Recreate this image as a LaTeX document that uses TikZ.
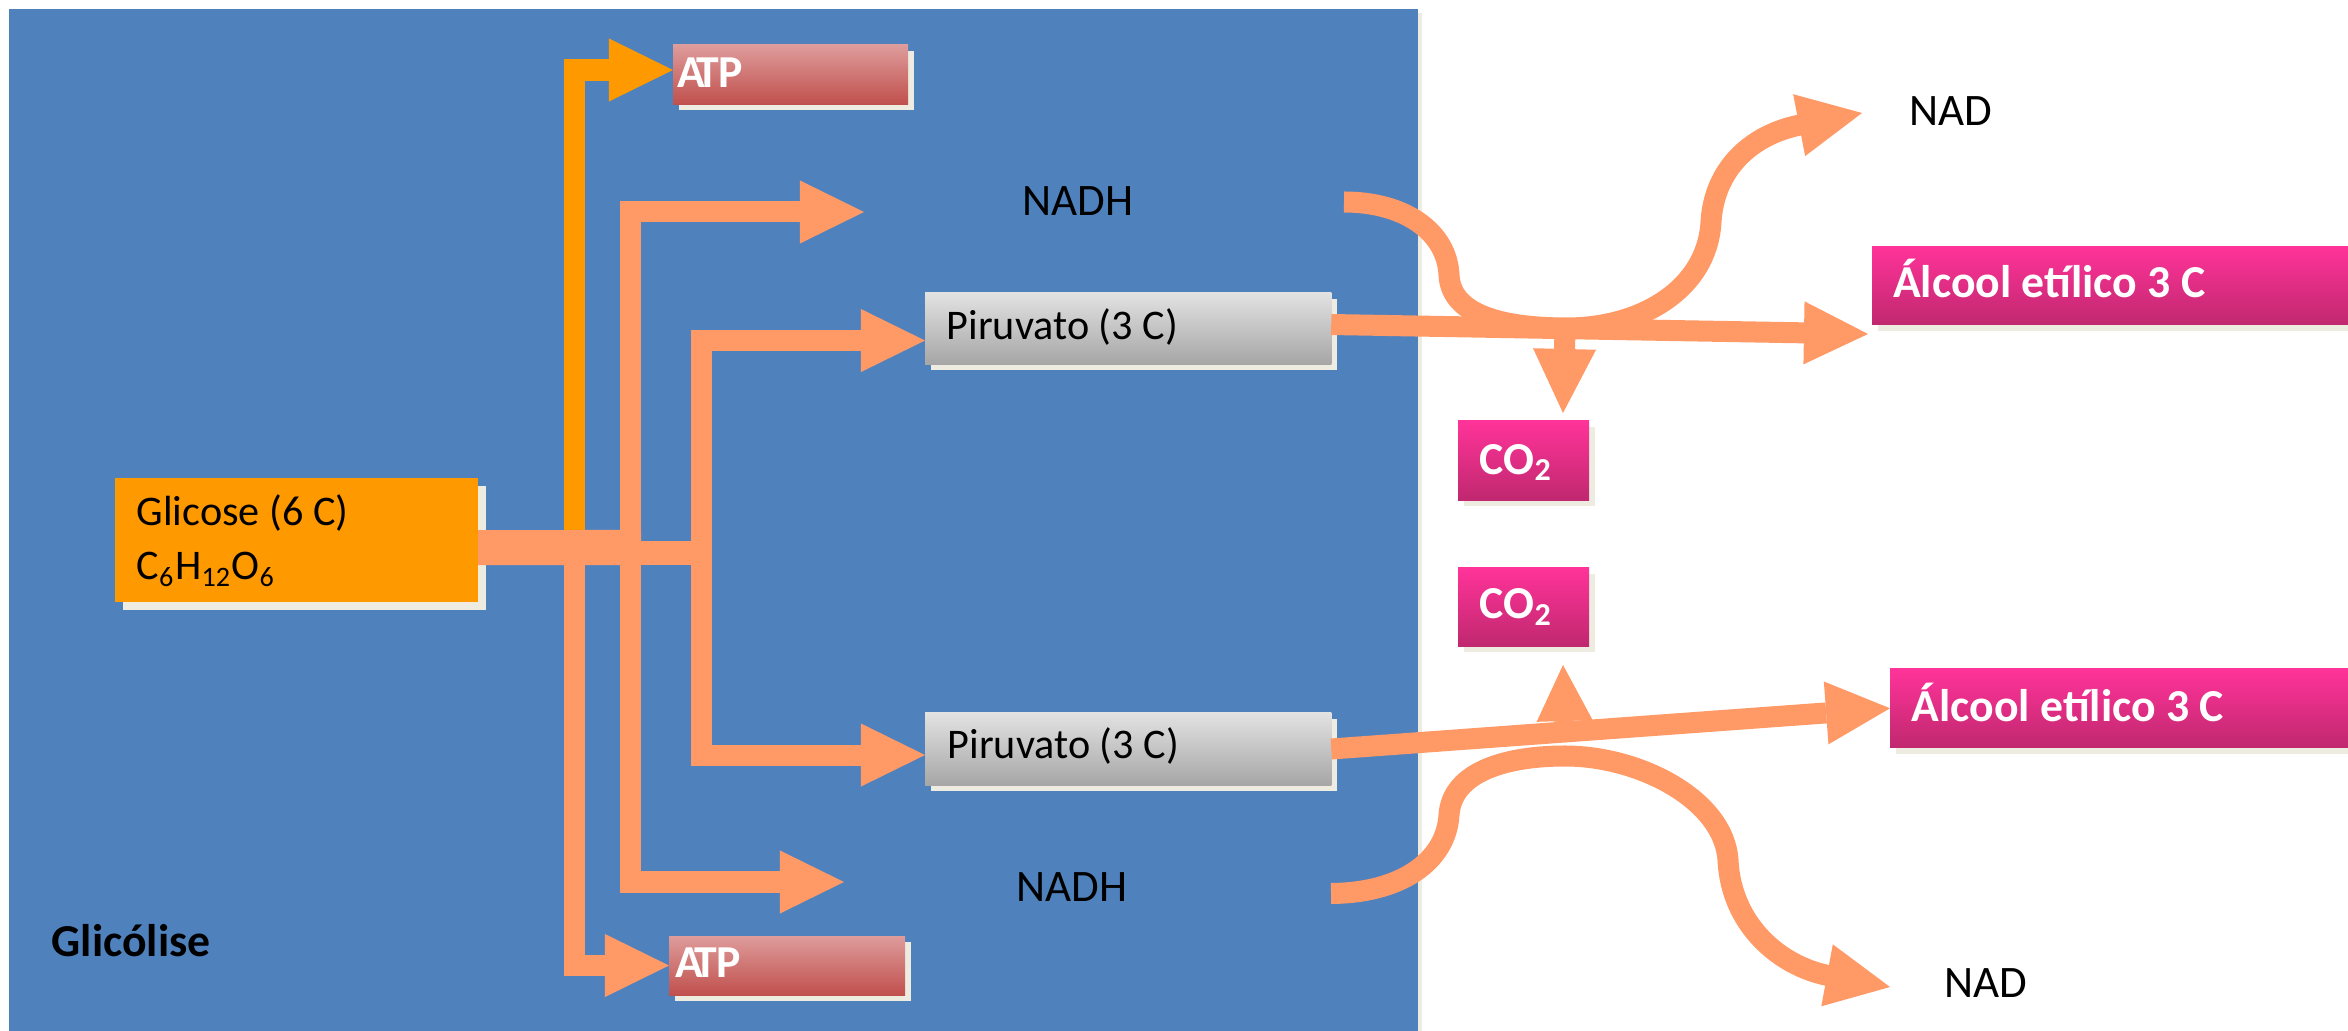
\documentclass[tikz,border=0pt]{standalone}
\usepackage{fontspec}
\setmainfont{Carlito}
\usetikzlibrary{arrows.meta,shadows}
\definecolor{bgblue}{HTML}{4F81BD}
\definecolor{salmon}{HTML}{FF9966}
\definecolor{amber}{HTML}{FF9900}
\definecolor{shadowc}{HTML}{EEECE1}
\definecolor{atptop}{HTML}{DE9C9B}
\definecolor{atpbot}{HTML}{C0504D}
\definecolor{greytop}{HTML}{E2E2E2}
\definecolor{greybot}{HTML}{A6A6A6}
\definecolor{pinktop}{HTML}{FF3399}
\definecolor{pinkbot}{HTML}{C0286F}
\tikzset{
  box/.style={rectangle, inner sep=0pt, outer sep=0pt, anchor=north west},
  shad/.style={drop shadow={shadow xshift=#1, shadow yshift=-#1, fill=shadowc, opacity=1}},
  shad/.default=0.06cm,
  lbl/.style={anchor=base west, inner sep=0pt, font=\fontsize{12}{14}\selectfont},
  nlbl/.style={anchor=base west, inner sep=0pt, font=\fontsize{12.8}{15}\selectfont},
  wlbl/.style={anchor=base west, inner sep=0pt, text=white, font=\fontsize{13}{15}\selectfont\bfseries},
  flow/.style={draw=salmon, line width=0.21cm, line join=miter,
     -{Triangle[length=0.64cm,width=0.63cm,line width=0pt]}},
  bar/.style={draw=salmon},
}
\begin{document}
\begin{tikzpicture}[x=0.01cm,y=-0.01cm]
\useasboundingbox (0,0) rectangle (2348,1031);
% boxes
\node[box, shad=0.04cm, fill=bgblue, minimum width=14.08cm, minimum height=10.22cm] (cell) at (9,9) {};
\node[box, shad=0.08cm, fill=amber, minimum width=3.63cm, minimum height=1.23cm] (glic) at (115,478.5) {};
\node[box, shad, top color=atptop, bottom color=atpbot, minimum width=2.35cm, minimum height=0.59cm] (atpT) at (673,45) {};
\node[box, shad, top color=atptop, bottom color=atpbot, minimum width=2.36cm, minimum height=0.59cm] (atpB) at (669,936) {};
\node[box, shad, top color=greytop, bottom color=greybot, minimum width=4.06cm, minimum height=0.71cm] (pirT) at (925,293) {};
\node[box, shad, top color=greytop, bottom color=greybot, minimum width=4.06cm, minimum height=0.72cm] (pirB) at (925,713) {};
\node[box, shad, top color=pinktop, bottom color=pinkbot, minimum width=1.31cm, minimum height=0.79cm] (co2T) at (1458,421) {};
\node[box, shad, top color=pinktop, bottom color=pinkbot, minimum width=1.31cm, minimum height=0.78cm] (co2B) at (1458,568) {};
\node[box, shad, top color=pinktop, bottom color=pinkbot, minimum width=4.9cm, minimum height=0.775cm] (alcT) at (1872,247) {};
\node[box, shad, top color=pinktop, bottom color=pinkbot, minimum width=4.7cm, minimum height=0.785cm] (alcB) at (1890,669) {};
% coordinates
\coordinate (trM) at (641,547.5);
\coordinate (trN) at (641,553);
\coordinate (trE) at (712,553);
\coordinate (vA) at (574,547.5);
\coordinate (vN) at (630.5,547.5);
\coordinate (vP) at (701.5,553);
\coordinate (nadhTtip) at (864,212);
\coordinate (nadhBtip) at (844,882);
% elbow arrows
\draw[flow, draw=amber] (vA) |- ([yshift=0.045cm]atpT.west);
\draw[flow] (vA) |- (atpB.west);
\draw[flow] (vN) |- (nadhTtip);
\draw[flow] (vN) |- (nadhBtip);
\draw[flow] (vP) |- ([yshift=-0.12cm]pirT.west);
\draw[flow] (vP) |- ([yshift=-0.06cm]pirB.west);
% trunk
\draw[bar, line width=0.35cm] ([yshift=-0.075cm]glic.east) -- (trM);
\draw[bar, line width=0.24cm] (trN) -- (trE);
% curved NADH -> NAD
\coordinate (cTs) at (1344,202);
\coordinate (cTtip) at (1862,113);
\draw[flow] (cTs) .. controls (1405,202) and (1447,232) .. (1449,275)
   .. controls (1451,318) and (1510,328) .. (1567,328)
   .. controls (1640,328) and (1707,290) .. (1711,222)
   .. controls (1714,170) and (1750,135) .. (1800,125) -- (cTtip);
\coordinate (cBs) at (1331,893.5);
\coordinate (cBtip) at (1890,987);
\draw[flow] (cBs) .. controls (1400,893) and (1446,862) .. (1449,815)
  .. controls (1452,770) and (1510,756) .. (1565,756)
  .. controls (1640,756) and (1724,800) .. (1728,860)
  .. controls (1731,925) and (1780,966) .. (1828,975.5) -- (cBtip);
% pyruvate -> alcohol
\coordinate (alcTtip) at (1868,334);
\draw[flow] ([yshift=0.04cm]pirT.east) -- (alcTtip);
\draw[flow] (pirB.east) -- (alcB.west);
% CO2 release
\coordinate (sT) at (1565,329);
\coordinate (sB) at (1565,732);
\coordinate (co2Ttip) at (1563,413);
\coordinate (co2Btip) at (1563,665);
\draw[flow] (sT) -- (co2Ttip);
\draw[flow, -{Triangle[length=0.56cm,width=0.56cm,line width=0pt]}] (sB) -- (co2Btip);
% labels
\node[lbl] (tglic) at (136,526) {Glicose (6 C)};
\node[lbl] (tform) at (136,580) {C\textsubscript{6}H\textsubscript{12}O\textsubscript{6}};
\node[anchor=base west, inner sep=0pt, font=\fontsize{13}{15}\selectfont\bfseries] (tglyc) at (51,956) {Glicólise};
\node[wlbl] (tatpT) at (677,88) {A\kern-0.2em TP};
\node[wlbl] (tatpB) at (675,978) {A\kern-0.2em TP};
\node[nlbl] (nadhT) at (1021.5,215.5) {NADH};
\node[nlbl] (nadhB) at (1015.5,902) {NADH};
\node[nlbl] (nadT) at (1909,126) {NAD};
\node[nlbl] (nadB) at (1944,997) {NAD};
\node[lbl] (tpirT) at (946,340) {Piruvato (3 C)};
\node[lbl] (tpirB) at (947,759) {Piruvato (3 C)};
\node[wlbl] (tco2T) at (1479,474.5) {CO\textsubscript{2}};
\node[wlbl] (tco2B) at (1479,618.6) {CO\textsubscript{2}};
\node[wlbl] (talcT) at (1892.5,298) {Álcool etílico 3 C};
\node[wlbl] (talcB) at (1911,722) {Álcool etílico 3 C};
\end{tikzpicture}
\end{document}
